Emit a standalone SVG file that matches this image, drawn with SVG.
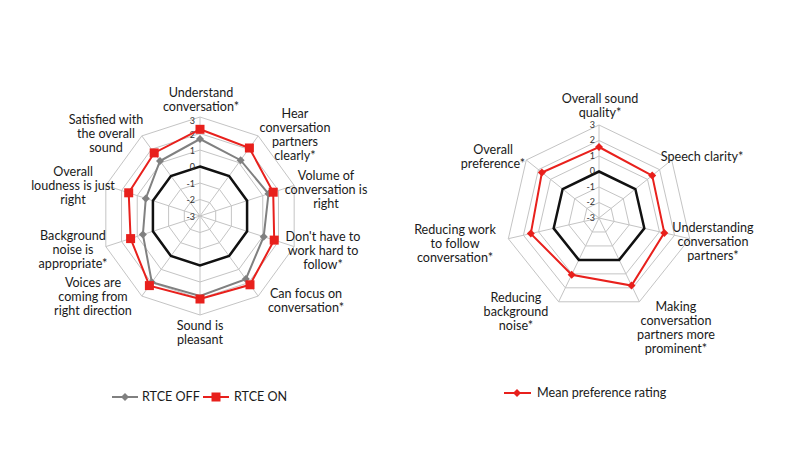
<svg xmlns="http://www.w3.org/2000/svg" width="800" height="450" viewBox="0 0 800 450">
<style>
text{font-family:Lato,"Open Sans","Liberation Sans",sans-serif;font-size:12.6px;fill:#1a1a1a}
.lbl{text-anchor:middle}
.tk{font-size:9px;text-anchor:end;fill:#333}
.g{fill:none;stroke:#c4c4c4;stroke-width:1}
.z{fill:none;stroke:#111;stroke-width:2.5}
.red{fill:none;stroke:#e8201c;stroke-width:2}
.gry{fill:none;stroke:#808080;stroke-width:2}
.rm{fill:#e8201c}
.gm{fill:#808080}
</style>
<defs>
<rect id="sq" x="-4.5" y="-4.5" width="9" height="9" class="rm"/>
<polygon id="dm" points="0,-4 4,0 0,4 -4,0" class="gm"/>
<polygon id="rd" points="0,-4 4,0 0,4 -4,0" class="rm"/>
</defs>
<rect width="800" height="450" fill="#fff"/>
<g id="left-grid">
<g transform="translate(200 216)">
<polygon class="g" vector-effect="non-scaling-stroke" transform="scale(16.5)" points="0,-1 .5878,-.809 .9511,-.309 .9511,.309 .5878,.809 0,1 -.5878,.809 -.9511,.309 -.9511,-.309 -.5878,-.809"/>
<polygon class="g" vector-effect="non-scaling-stroke" transform="scale(33)" points="0,-1 .5878,-.809 .9511,-.309 .9511,.309 .5878,.809 0,1 -.5878,.809 -.9511,.309 -.9511,-.309 -.5878,-.809"/>
<polygon class="g" vector-effect="non-scaling-stroke" transform="scale(66)" points="0,-1 .5878,-.809 .9511,-.309 .9511,.309 .5878,.809 0,1 -.5878,.809 -.9511,.309 -.9511,-.309 -.5878,-.809"/>
<polygon class="g" vector-effect="non-scaling-stroke" transform="scale(82.5)" points="0,-1 .5878,-.809 .9511,-.309 .9511,.309 .5878,.809 0,1 -.5878,.809 -.9511,.309 -.9511,-.309 -.5878,-.809"/>
<polygon class="g" vector-effect="non-scaling-stroke" transform="scale(99)" points="0,-1 .5878,-.809 .9511,-.309 .9511,.309 .5878,.809 0,1 -.5878,.809 -.9511,.309 -.9511,-.309 -.5878,-.809"/>
<path class="g" d="M0,0V-99M0,0L58.2,-80.1M0,0L94.2,-30.6M0,0L94.2,30.6M0,0L58.2,80.1M0,0V99M0,0L-58.2,80.1M0,0L-94.2,30.6M0,0L-94.2,-30.6M0,0L-58.2,-80.1"/>
<polygon class="z" vector-effect="non-scaling-stroke" transform="scale(49.5)" points="0,-1 .5878,-.809 .9511,-.309 .9511,.309 .5878,.809 0,1 -.5878,.809 -.9511,.309 -.9511,-.309 -.5878,-.809"/>
</g>
<text class="tk" x="195" y="124">3</text><text class="tk" x="195" y="138">2</text><text class="tk" x="195" y="154">1</text><text class="tk" x="195" y="170">0</text><text class="tk" x="195" y="187">-1</text><text class="tk" x="195" y="203">-2</text><text class="tk" x="195" y="220">-3</text>
</g>
<g id="left-series">
<polygon class="gry" points="200,139 240.6,160.2 268.5,193.8 263.7,236.7 245.8,279.1 200,296 151.8,282.3 142.9,234.5 145.8,198.4 160,161"/>
<polygon class="red" points="200,129.3 249.4,148 273.2,192.2 274.2,240.1 250,284.8 200,299 149.4,285.6 130.6,238.6 128.7,192.8 154.2,152.9"/>
<use href="#dm" x="200" y="139"/><use href="#dm" x="240.6" y="160.2"/><use href="#dm" x="268.5" y="193.8"/><use href="#dm" x="263.7" y="236.7"/><use href="#dm" x="245.8" y="279.1"/><use href="#dm" x="151.8" y="282.3"/><use href="#dm" x="142.9" y="234.5"/><use href="#dm" x="145.8" y="198.4"/><use href="#dm" x="160" y="161"/>
<use href="#sq" x="200" y="129.3"/><use href="#sq" x="249.4" y="148"/><use href="#sq" x="273.2" y="192.2"/><use href="#sq" x="274.2" y="240.1"/><use href="#sq" x="250" y="284.8"/><use href="#sq" x="200" y="299"/><use href="#sq" x="149.4" y="285.6"/><use href="#sq" x="130.6" y="238.6"/><use href="#sq" x="128.7" y="192.8"/><use href="#sq" x="154.2" y="152.9"/>
</g>
<g id="left-labels">
<text class="lbl" x="201" y="97">Understand<tspan x="201" dy="14">conversation*</tspan></text>
<text class="lbl" x="295" y="118">Hear<tspan x="295" dy="14">conversation</tspan><tspan x="295" dy="14">partners</tspan><tspan x="295" dy="14">clearly*</tspan></text>
<text class="lbl" x="326" y="180">Volume of<tspan x="326" dy="14">conversation is</tspan><tspan x="326" dy="14">right</tspan></text>
<text class="lbl" x="323" y="241">Don't have to<tspan x="323" dy="14">work hard to</tspan><tspan x="323" dy="14">follow*</tspan></text>
<text class="lbl" x="306" y="298">Can focus on<tspan x="306" dy="14">conversation*</tspan></text>
<text class="lbl" x="200" y="330">Sound is<tspan x="200" dy="14">pleasant</tspan></text>
<text class="lbl" x="93" y="287">Voices are<tspan x="93" dy="14">coming from</tspan><tspan x="93" dy="14">right direction</tspan></text>
<text class="lbl" x="73" y="240">Background<tspan x="73" dy="14">noise is</tspan><tspan x="73" dy="14">appropriate*</tspan></text>
<text class="lbl" x="73" y="176">Overall<tspan x="73" dy="14">loudness is just</tspan><tspan x="73" dy="14">right</tspan></text>
<text class="lbl" x="106" y="124">Satisfied with<tspan x="106" dy="14">the overall</tspan><tspan x="106" dy="14">sound</tspan></text>
</g>
<g id="left-legend">
<line x1="112" y1="397" x2="138" y2="397" class="gry"/><use href="#dm" x="125" y="397"/>
<text x="142" y="401">RTCE OFF</text>
<line x1="203" y1="397" x2="229" y2="397" class="red"/><use href="#sq" x="216" y="397"/>
<text x="234" y="401">RTCE ON</text>
</g>
<g id="right-grid">
<g transform="translate(599 218)">
<polygon class="g" vector-effect="non-scaling-stroke" transform="scale(15.5)" points="0,-1 .7818,-.6235 .9749,.2225 .4339,.901 -.4339,.901 -.9749,.2225 -.7818,-.6235"/>
<polygon class="g" vector-effect="non-scaling-stroke" transform="scale(31)" points="0,-1 .7818,-.6235 .9749,.2225 .4339,.901 -.4339,.901 -.9749,.2225 -.7818,-.6235"/>
<polygon class="g" vector-effect="non-scaling-stroke" transform="scale(62)" points="0,-1 .7818,-.6235 .9749,.2225 .4339,.901 -.4339,.901 -.9749,.2225 -.7818,-.6235"/>
<polygon class="g" vector-effect="non-scaling-stroke" transform="scale(77.5)" points="0,-1 .7818,-.6235 .9749,.2225 .4339,.901 -.4339,.901 -.9749,.2225 -.7818,-.6235"/>
<polygon class="g" vector-effect="non-scaling-stroke" transform="scale(93)" points="0,-1 .7818,-.6235 .9749,.2225 .4339,.901 -.4339,.901 -.9749,.2225 -.7818,-.6235"/>
<path class="g" d="M0,0V-93M0,0L72.7,-58M0,0L90.7,20.7M0,0L40.4,83.8M0,0L-40.4,83.8M0,0L-90.7,20.7M0,0L-72.7,-58"/>
<polygon class="z" vector-effect="non-scaling-stroke" transform="scale(46.5)" points="0,-1 .7818,-.6235 .9749,.2225 .4339,.901 -.4339,.901 -.9749,.2225 -.7818,-.6235"/>
</g>
<text class="tk" x="595" y="128">3</text><text class="tk" x="595" y="143">2</text><text class="tk" x="595" y="159">1</text><text class="tk" x="595" y="174">0</text><text class="tk" x="595" y="190">-1</text><text class="tk" x="595" y="205">-2</text><text class="tk" x="595" y="221">-3</text>
</g>
<g id="right-series">
<polygon class="red" points="599,147 652.2,175.6 664.3,232.9 631.5,285.6 571.7,274.8 530.8,233.6 541.9,172.5"/>
<use href="#rd" x="599" y="147"/><use href="#rd" x="652.2" y="175.6"/><use href="#rd" x="664.3" y="232.9"/><use href="#rd" x="631.5" y="285.6"/><use href="#rd" x="571.7" y="274.8"/><use href="#rd" x="530.8" y="233.6"/><use href="#rd" x="541.9" y="172.5"/>
</g>
<g id="right-labels">
<text class="lbl" x="600" y="103">Overall sound<tspan x="600" dy="14">quality*</tspan></text>
<text class="lbl" x="702" y="161">Speech clarity*</text>
<text class="lbl" x="713" y="232">Understanding<tspan x="713" dy="14">conversation</tspan><tspan x="713" dy="14">partners*</tspan></text>
<text class="lbl" x="676" y="311">Making<tspan x="676" dy="14">conversation</tspan><tspan x="676" dy="14">partners more</tspan><tspan x="676" dy="14">prominent*</tspan></text>
<text class="lbl" x="516" y="302">Reducing<tspan x="516" dy="14">background</tspan><tspan x="516" dy="14">noise*</tspan></text>
<text class="lbl" x="455" y="234">Reducing work<tspan x="455" dy="14">to follow</tspan><tspan x="455" dy="14">conversation*</tspan></text>
<text class="lbl" x="493" y="154">Overall<tspan x="493" dy="14">preference*</tspan></text>
</g>
<g id="right-legend">
<line x1="504" y1="393" x2="531" y2="393" class="red"/><use href="#rd" x="517" y="393"/>
<text x="537" y="397">Mean preference rating</text>
</g>
</svg>
